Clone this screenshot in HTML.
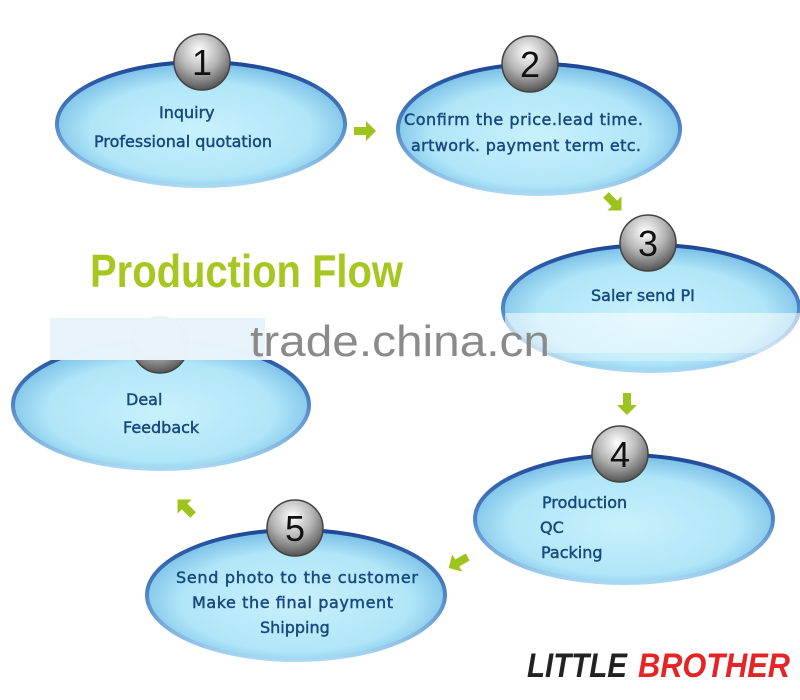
<!DOCTYPE html>
<html><head><meta charset="utf-8"><style>
html,body{margin:0;padding:0;background:#fff;}
svg{display:block;}
.t{font-family:"DejaVu Sans","Liberation Sans",sans-serif;font-size:16px;fill:#17497f;stroke:#17497f;stroke-width:0.45;}
.n{font-family:"Liberation Sans",sans-serif;font-size:36px;fill:#111;text-anchor:middle;}
</style></head><body>
<svg width="800" height="700" viewBox="0 0 800 700" xmlns="http://www.w3.org/2000/svg">
<defs>
<radialGradient id="ef" cx="50%" cy="55%" r="55%">
<stop offset="0" stop-color="#c8f1fc"/><stop offset="0.7" stop-color="#b0e6f8"/><stop offset="1" stop-color="#78bde6"/>
</radialGradient>
<linearGradient id="es" x1="0" y1="0" x2="0" y2="1">
<stop offset="0" stop-color="#1d4796"/><stop offset="0.5" stop-color="#4f86c6"/><stop offset="1" stop-color="#a9d9f2"/>
</linearGradient>
<radialGradient id="cf" cx="45%" cy="30%" r="70%">
<stop offset="0" stop-color="#ffffff"/><stop offset="0.5" stop-color="#b8b8b8"/><stop offset="1" stop-color="#555"/>
</radialGradient>
<g id="arr"><path d="M-10,-4 L2,-4 L2,-10 L12,0 L2,10 L2,4 L-10,4 Z" fill="#9dc41c"/></g>
</defs>

<ellipse cx="201" cy="124" rx="144" ry="62" fill="url(#ef)" stroke="url(#es)" stroke-width="4"/>
<ellipse cx="539" cy="129" rx="141" ry="65" fill="url(#ef)" stroke="url(#es)" stroke-width="4"/>
<ellipse cx="651" cy="308" rx="148" ry="63" fill="url(#ef)" stroke="url(#es)" stroke-width="4"/>
<ellipse cx="161" cy="405" rx="148" ry="64" fill="url(#ef)" stroke="url(#es)" stroke-width="4"/>
<ellipse cx="624" cy="519" rx="149" ry="64" fill="url(#ef)" stroke="url(#es)" stroke-width="4"/>
<ellipse cx="296" cy="595" rx="149" ry="65" fill="url(#ef)" stroke="url(#es)" stroke-width="4"/>

<g stroke="#444" stroke-width="1.5" fill="url(#cf)">
<circle cx="202" cy="62" r="28"/>
<circle cx="530" cy="64" r="28"/>
<circle cx="648" cy="243" r="28"/>
<circle cx="160" cy="345" r="28"/>
<circle cx="620" cy="454" r="28"/>
<circle cx="295" cy="528" r="28"/>
</g>
<text class="n" x="202" y="75">1</text>
<text class="n" x="530" y="77">2</text>
<text class="n" x="648" y="256">3</text>
<text class="n" x="620" y="467">4</text>
<text class="n" x="295" y="541">5</text>

<!-- watermark band -->
<rect x="0" y="300" width="280" height="60" fill="#fff" opacity="0.9"/>
<rect x="50" y="318" width="215" height="42" fill="#e6f3f8" opacity="0.9"/>
<rect x="505" y="313" width="295" height="40" fill="#fff" opacity="0.55"/>
<rect x="540" y="353" width="260" height="8" fill="#fff" opacity="0.3"/>
<text x="250" y="356" font-family="Liberation Sans,sans-serif" font-size="44" fill="#8a8a8a" textLength="300" lengthAdjust="spacingAndGlyphs">trade.china.cn</text>

<text class="t" x="159" y="118">Inquiry</text>
<text class="t" x="94" y="147">Professional quotation</text>
<text class="t" x="404" y="125" textLength="239">Confirm the price.lead time.</text>
<text class="t" x="411" y="151" textLength="230">artwork. payment term etc.</text>
<text class="t" x="591" y="301">Saler send PI</text>
<text class="t" x="126" y="405">Deal</text>
<text class="t" x="123" y="433">Feedback</text>
<text class="t" x="542" y="508">Production</text>
<text class="t" x="540" y="533">QC</text>
<text class="t" x="541" y="558">Packing</text>
<text class="t" x="176" y="583" textLength="242">Send photo to the customer</text>
<text class="t" x="192" y="608" textLength="201">Make the final payment</text>
<text class="t" x="260" y="633">Shipping</text>

<use href="#arr" transform="translate(364,131)"/>
<use href="#arr" transform="translate(613,202) rotate(45)"/>
<use href="#arr" transform="translate(627,403) rotate(90)"/>
<use href="#arr" transform="translate(459,562) rotate(150)"/>
<use href="#arr" transform="translate(186,508) rotate(-135)"/>

<text x="90" y="287" font-family="Liberation Sans,sans-serif" font-weight="bold" font-size="46" fill="#a6c620" textLength="313" lengthAdjust="spacingAndGlyphs">Production Flow</text>

<text x="527" y="677" font-family="Liberation Sans,sans-serif" font-weight="bold" font-style="italic" font-size="34" fill="#222" textLength="100" lengthAdjust="spacingAndGlyphs">LITTLE</text>
<text x="638" y="677" font-family="Liberation Sans,sans-serif" font-weight="bold" font-style="italic" font-size="34" fill="#e42426" textLength="152" lengthAdjust="spacingAndGlyphs">BROTHER</text>
</svg>
</body></html>
